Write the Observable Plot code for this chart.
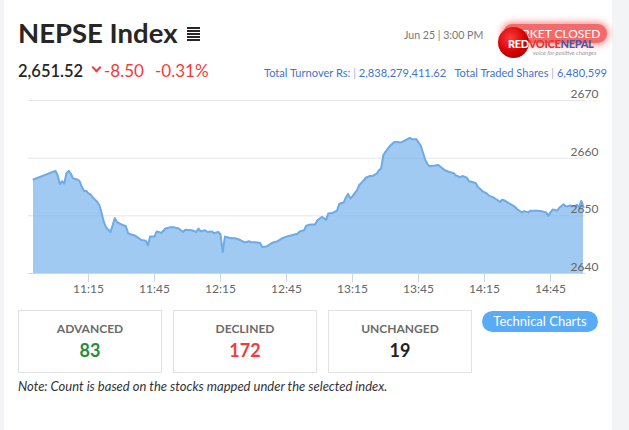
<!DOCTYPE html>
<html>
<head>
<meta charset="utf-8">
<script src="https://cdn.jsdelivr.net/npm/d3@7"></script>
<script src="https://cdn.jsdelivr.net/npm/@observablehq/plot@0.6"></script>
<style>
  html, body { margin:0; padding:0; }
  body { width:629px; height:430px; background:#f3f4f6; position:relative; overflow:hidden; font-family: Lato, "Noto Sans", sans-serif; }
  #card { position:absolute; left:4px; top:0; width:608px; height:430px; background:#fff; }
  .abs { position:absolute; white-space:nowrap; }
  #title { left:18px; top:17px; font-size:27.5px; font-weight:700; color:#262626; line-height:32px; }
  #burger { left:187px; top:27px; width:13px; height:14px; background:repeating-linear-gradient(#262626 0 2px, transparent 2px 3px); }
  #price { left:18px; top:61px; font-size:16.5px; font-weight:600; color:#262626; line-height:20px; }
  #chev { left:93px; top:64px; width:5px; height:5px; border-right:2px solid #f23b3b; border-bottom:2px solid #f23b3b; transform:rotate(45deg); }
  #chg { left:104px; top:61px; font-size:17px; color:#f23b3b; line-height:20px; }
  #pct { left:155px; top:61px; font-size:17px; color:#f23b3b; line-height:20px; }
  #date { left:404px; top:28px; font-size:10.6px; color:#777; line-height:14px; }
  #turn { right:22px; top:65px; font-size:11.1px; color:#3f74c9; line-height:15px; }
  #turn .sep { color:#9bb3dd; }
  #badge { left:503px; top:24px; width:104px; height:19px; border-radius:10px; background:#f46a6a; box-shadow:0 0 6px 2px rgba(244,80,80,0.6); color:#fff; font-size:12px; line-height:19px; text-align:right; padding-right:8px; box-sizing:border-box; }
  #ball { left:498px; top:27px; width:31px; height:31px; border-radius:50%; background:radial-gradient(circle at 40% 35%, #ff3b3b 0%, #d10000 55%, #8a0000 100%); }
  #logo { left:508px; top:37px; font-size:11px; font-weight:900; line-height:13px; letter-spacing:-0.3px; }
  #tag { left:533px; top:49px; font-size:6px; color:#999; font-style:italic; line-height:7px; }
  #chart { position:absolute; left:0; top:90px; }
  .box { position:absolute; top:310px; width:144px; height:63px; border:1px solid #e2e2e2; box-sizing:border-box; text-align:center; }
  .box .lab { position:absolute; left:0; right:0; top:10px; font-size:12px; font-weight:700; color:#6b6b6b; }
  .box .num { position:absolute; left:0; right:0; top:28px; font-size:18px; font-weight:700; }
  #tech { left:482px; top:311px; width:116px; height:21px; border-radius:11px; background:#5aabf5; color:#fff; font-size:13px; line-height:21px; text-align:center; }
  #note { left:18px; top:379px; font-size:13px; font-style:italic; color:#333; line-height:15px; }
</style>
</head>
<body>
<div id="card"></div>
<div class="abs" id="title">NEPSE Index</div>
<div class="abs" id="burger"></div>
<div class="abs" id="price">2,651.52</div>
<div class="abs" id="chev"></div>
<div class="abs" id="chg">-8.50</div>
<div class="abs" id="pct">-0.31%</div>
<div class="abs" id="date">Jun 25 | 3:00 PM</div>
<div class="abs" id="turn">Total Turnover Rs: <span class="sep">|</span> 2,838,279,411.62&nbsp;&nbsp; Total Traded Shares <span class="sep">|</span> 6,480,599</div>
<div class="abs" id="badge">MARKET CLOSED</div>
<div class="abs" id="ball"></div>
<div class="abs" id="logo"><span style="color:#fff">RED</span><span style="color:#e8312f">VOICE</span><span style="color:#4a57a6">NEPAL</span></div>
<div class="abs" id="tag">voice for positive changes</div>
<div id="chart"></div>
<div class="box" style="left:18px"><div class="lab">ADVANCED</div><div class="num" style="color:#2a8a3e">83</div></div>
<div class="box" style="left:173px"><div class="lab">DECLINED</div><div class="num" style="color:#f23b3b">172</div></div>
<div class="box" style="left:328px"><div class="lab">UNCHANGED</div><div class="num" style="color:#222">19</div></div>
<div class="abs" id="tech">Technical Charts</div>
<div class="abs" id="note">Note: Count is based on the stocks mapped under the selected index.</div>
<script>
const times = ["10:50","11:00","11:01","11:02","11:03","11:04","11:05","11:06","11:07","11:08","11:09","11:10","11:11","11:12","11:13","11:14","11:15","11:16","11:17","11:18","11:19","11:20","11:21","11:22","11:23","11:24","11:25","11:26","11:27","11:28","11:30","11:32","11:33","11:34","11:36","11:38","11:39","11:41","11:42","11:43","11:44","11:45","11:46","11:47","11:48","11:50","11:52","11:54","11:56","11:58","11:59","12:02","12:04","12:05","12:06","12:08","12:09","12:11","12:12","12:14","12:15","12:16","12:17","12:18","12:20","12:22","12:24","12:26","12:28","12:29","12:31","12:33","12:34","12:36","12:38","12:39","12:41","12:43","12:45","12:47","12:50","12:51","12:53","12:54","12:56","12:58","12:59","13:01","13:02","13:03","13:04","13:06","13:08","13:09","13:11","13:12","13:13","13:14","13:15","13:17","13:18","13:20","13:21","13:23","13:24","13:26","13:27","13:28","13:29","13:30","13:31","13:32","13:34","13:35","13:37","13:38","13:40","13:41","13:42","13:44","13:46","13:47","13:48","13:49","13:50","13:52","13:54","13:56","13:57","13:59","14:01","14:02","14:04","14:05","14:07","14:08","14:09","14:11","14:12","14:13","14:14","14:16","14:17","14:19","14:21","14:22","14:23","14:24","14:26","14:27","14:29","14:30","14:32","14:33","14:35","14:36","14:39","14:41","14:43","14:44","14:45","14:46","14:48","14:49","14:51","14:52","14:54","14:56","14:57","14:58","14:59","15:00"];
const values = [2656.3,2657.8,2657.0,2655.5,2656.0,2655.6,2657.4,2657.8,2657.3,2656.5,2656.4,2656.3,2656.0,2655.0,2654.3,2654.3,2653.9,2653.7,2653.2,2652.8,2652.4,2651.8,2650.4,2648.9,2648.0,2647.6,2647.2,2648.4,2649.6,2648.9,2648.5,2648.2,2647.0,2646.8,2646.6,2646.1,2645.8,2645.7,2644.9,2646.4,2646.4,2646.4,2647.3,2647.2,2647.0,2647.8,2648.0,2648.0,2647.8,2647.2,2647.6,2647.5,2647.2,2647.8,2647.3,2647.5,2647.2,2647.3,2647.0,2647.2,2646.8,2643.7,2646.4,2646.3,2646.1,2646.1,2645.8,2645.4,2645.6,2645.4,2645.4,2645.3,2644.6,2644.7,2645.2,2645.4,2645.6,2646.1,2646.4,2646.6,2646.9,2647.3,2647.5,2648.3,2648.5,2648.5,2649.2,2649.8,2649.6,2649.3,2650.4,2650.5,2650.9,2652.1,2652.3,2653.2,2653.8,2653.0,2653.4,2654.4,2655.3,2656.1,2656.6,2656.9,2656.9,2657.3,2657.9,2658.2,2660.5,2661.1,2661.6,2662.1,2662.8,2662.8,2662.7,2662.9,2663.3,2663.5,2663.3,2663.3,2662.2,2661.0,2659.8,2659.0,2658.6,2658.7,2658.8,2658.2,2657.9,2657.6,2657.4,2657.0,2656.7,2656.9,2656.6,2656.0,2655.9,2655.7,2655.0,2654.7,2654.3,2653.9,2653.5,2653.2,2652.7,2652.4,2652.8,2652.7,2652.2,2652.0,2651.5,2651.1,2650.6,2650.8,2650.6,2650.9,2650.9,2650.8,2650.6,2650.0,2650.6,2651.1,2650.9,2651.4,2652.0,2651.6,2651.8,2651.6,2651.9,2651.5,2652.6,2651.5];
const xTickLabels = ["11:15","11:45","12:15","12:45","13:15","13:45","14:15","14:45"];
const yTicks = [2640, 2650, 2660, 2670];

const toMin = s => { const [h, m] = s.split(":").map(Number); return h * 60 + m; };
const fmt = m => `${Math.floor(m / 60)}:${String(m % 60).padStart(2, "0")}`;
const data = times.map((t, i) => ({ t: toMin(t), v: values[i] }));
const xTicks = xTickLabels.map(toMin);

const chart = Plot.plot({
  width: 629,
  height: 215,
  marginTop: 10,
  marginBottom: 32,
  marginLeft: 28,
  marginRight: 44,
  style: { fontFamily: "Lato, 'Noto Sans', sans-serif", fontSize: "12px", background: "transparent", overflow: "visible" },
  x: { domain: [toMin(times[0]), toMin(times[times.length - 1])], insetLeft: 5, insetRight: 2 },
  y: { domain: [2640, 2670] },
  marks: [
    Plot.gridY(yTicks, { stroke: "#e6e6e6", strokeOpacity: 1 }),
    Plot.areaY(data, { x: "t", y1: 2640, y2: "v", fill: "#7cb5ec", fillOpacity: 0.72 }),
    Plot.lineY(data, { x: "t", y: "v", stroke: "#6eaae6", strokeWidth: 2 }),
    Plot.ruleY([2640], { stroke: "#ccd6eb" }),
    Plot.axisX(xTicks, { tickSize: 9, tickPadding: 2, stroke: "#ccd6eb", fill: "#666", tickFormat: fmt, label: null, fontSize: 12 }),
    Plot.axisY(yTicks, { anchor: "right", tickSize: 0, tickPadding: 0, dx: -15, dy: -6.5, textAnchor: "start", fill: "#666", label: null, fontSize: 12, tickFormat: d => String(d) })
  ]
});
document.getElementById("chart").appendChild(chart);
</script>
</body>
</html>
